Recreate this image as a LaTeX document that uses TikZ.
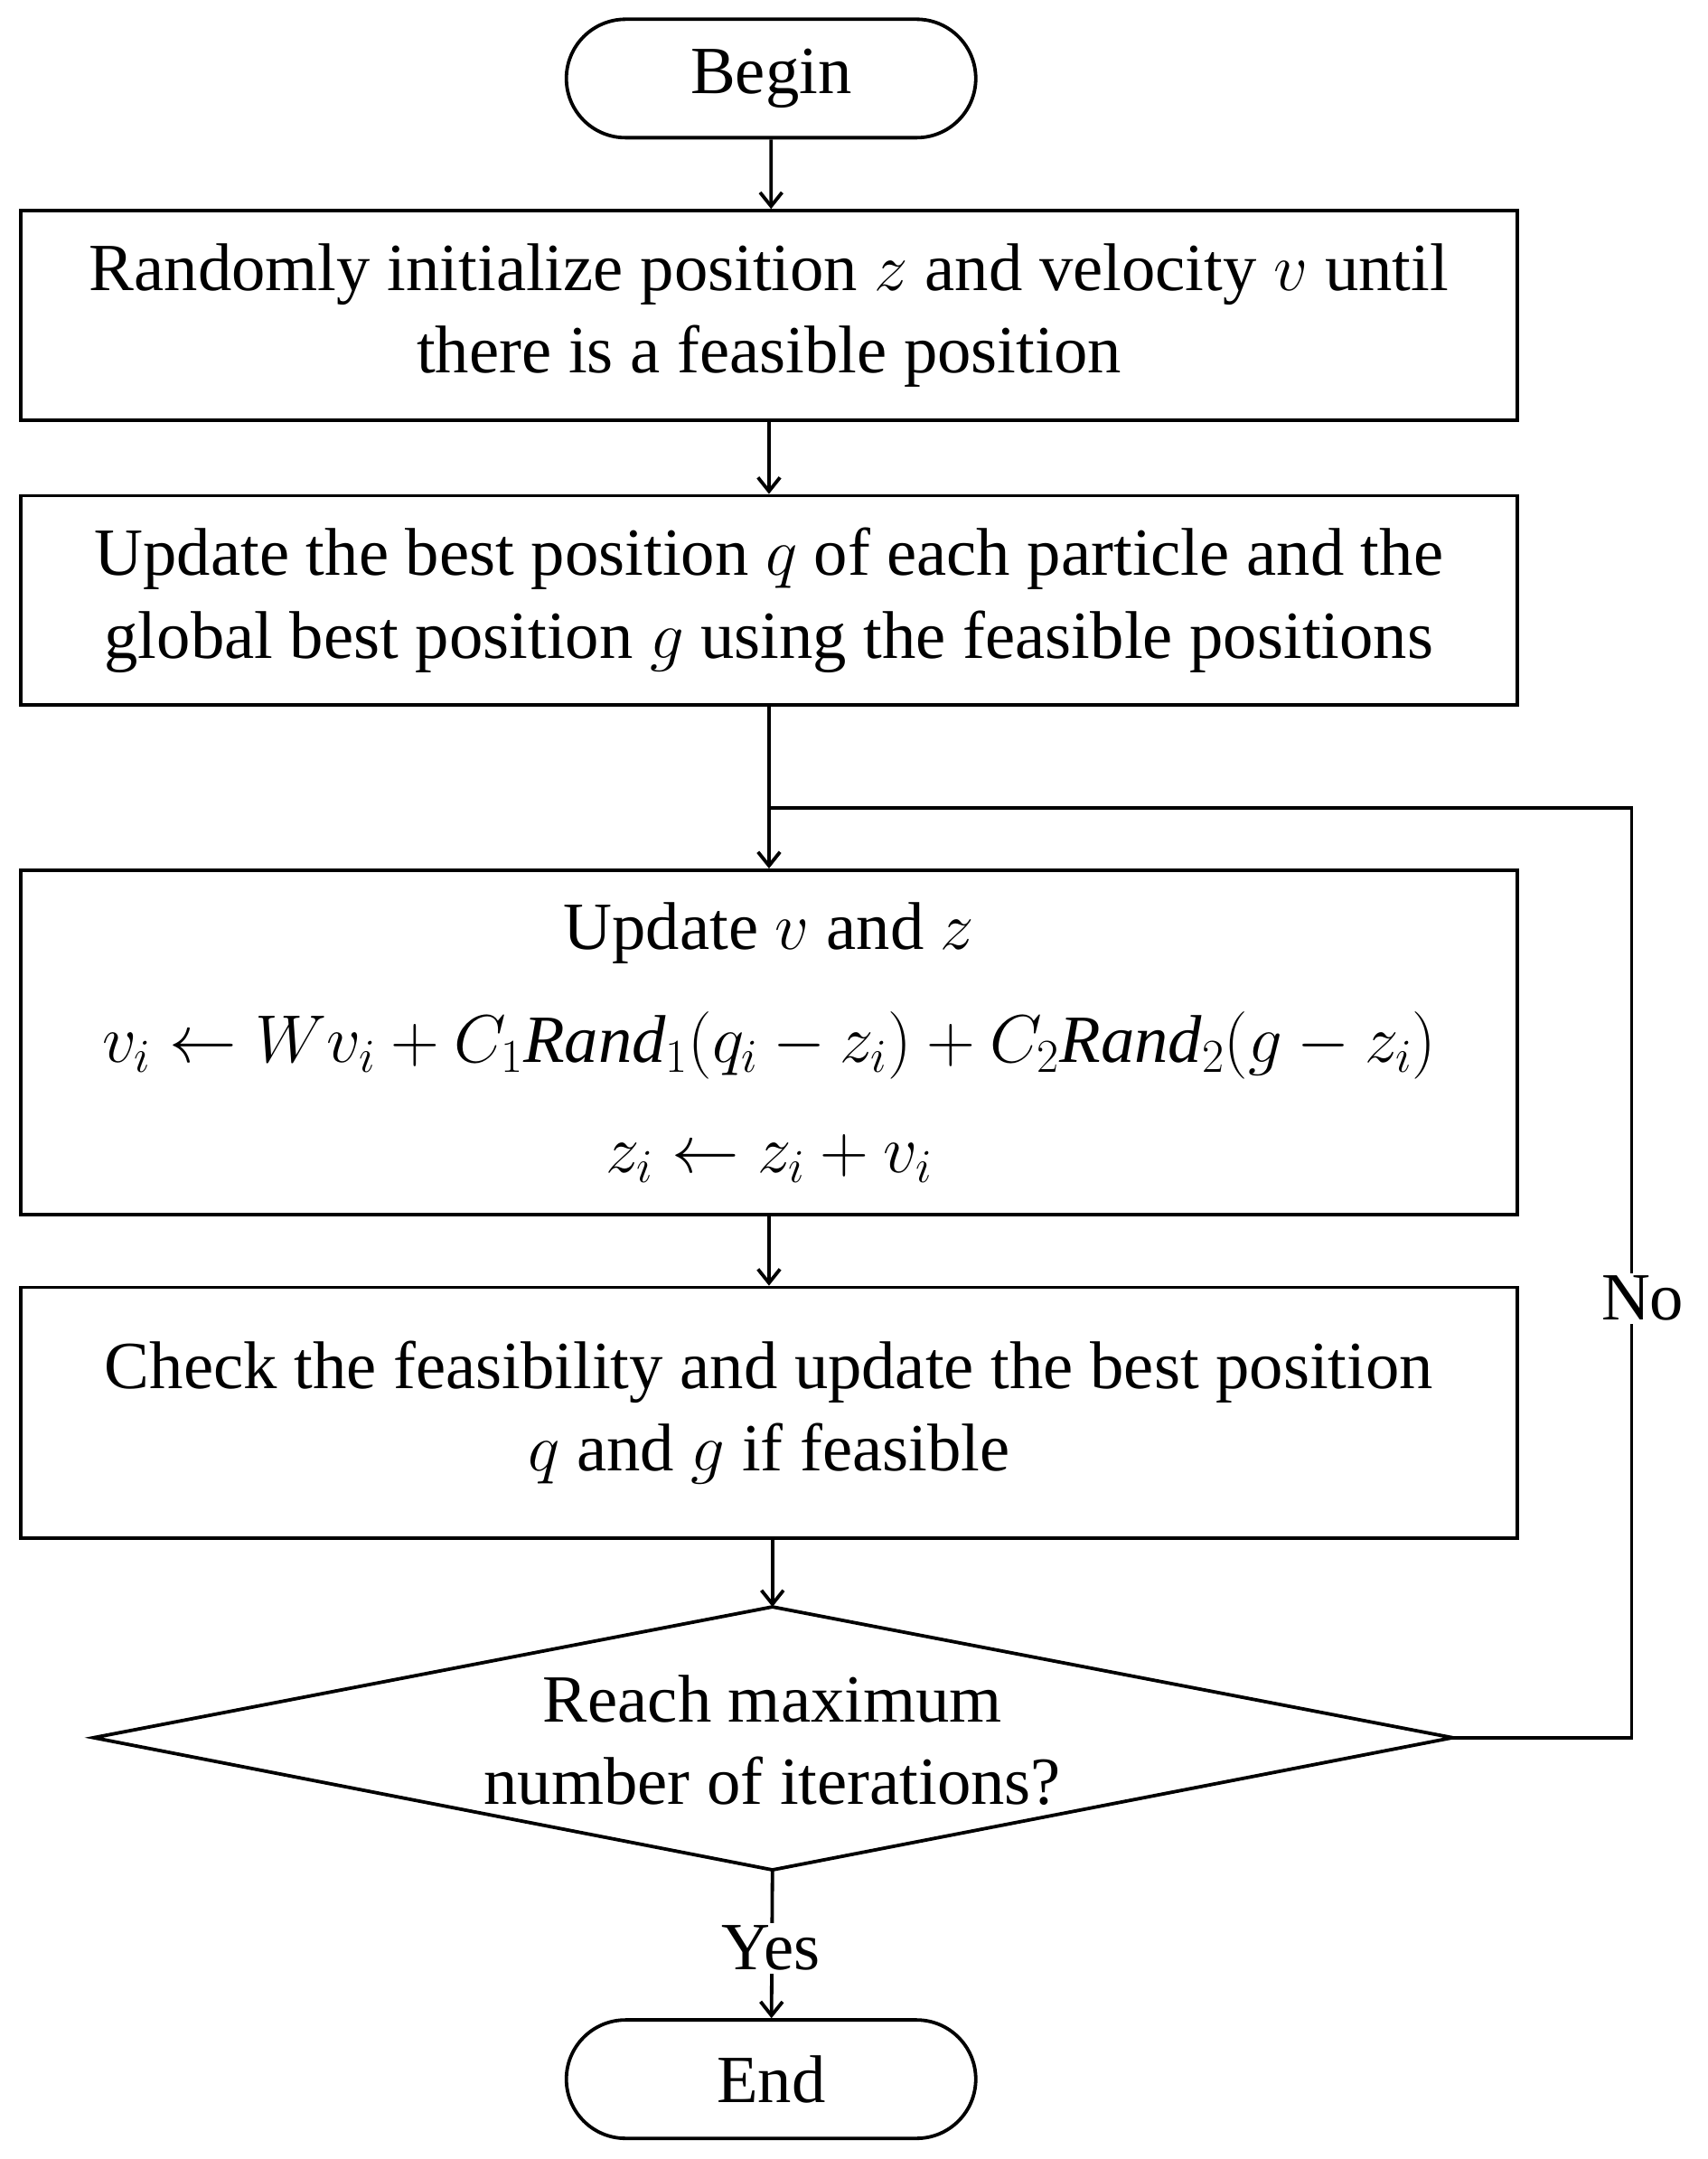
\documentclass[tikz,border=0pt]{standalone}
\usepackage{fix-cm}
\usepackage{fontspec}
\setmainfont{Liberation Serif}
\usetikzlibrary{arrows.meta,shapes.misc}
\begin{document}
\begin{tikzpicture}[x=1pt,y=-1pt,
  every node/.style={font=\fontsize{49}{60}\selectfont},
  box/.style={draw,line width=2.5pt,minimum width=1087pt,align=center,inner sep=0pt},
  term/.style={draw,line width=2.5pt,rounded rectangle,minimum width=304pt,minimum height=86pt},
  arr/.style={line width=2.5pt,-{Straight Barb[length=10pt,width=16pt]}},
  ln/.style={line width=2.5pt}]
\useasboundingbox (0,0) rectangle (1240,1568);
\node[term] (b) at (560,57) {Begin};
\node[box,minimum height=152pt] (s1) at (558.5,229) {Randomly initialize position $z$ and velocity $v$ until\\there is a feasible position};
\node[box,minimum height=152pt] (s2) at (558.5,436) {Update the best position $q$ of each particle and the\\global best position $g$ using the feasible positions};
\node[box,minimum height=250pt] (s3) at (558.5,757) {Update $v$ and $z$\\[22pt]
 $v_i \leftarrow Wv_i + C_1\mathit{Rand}_1(q_i - z_i) + C_2\mathit{Rand}_2(g - z_i)$\\[20pt]
 $z_i \leftarrow z_i + v_i$};
\node[box,minimum height=182pt] (s4) at (558.5,1026) {Check the feasibility and update the best position\\$q$ and $g$ if feasible};
\coordinate (dt) at (561,1167); \coordinate (db) at (561,1358);
\coordinate (dl) at (68,1262); \coordinate (dr) at (1055,1262);
\draw[ln] (dt) -- (dr) -- (db) -- (dl) -- cycle;
\node[align=center] (d) at (561,1264) {Reach maximum\\number of iterations?};
\node[term] (e) at (560,1510) {End};
\coordinate (c1) at (1185,1262); \coordinate (c2) at (1185,587); \coordinate (c3) at (560,587);
\draw[arr] (b) -- (b|-s1.north);
\draw[arr] (s1) -- (s1.south|-s2.north);
\draw[arr] (s2) -- (s2.south|-s3.north);
\draw[arr] (s3) -- (s3.south|-s4.north);
\draw[arr] (s4.south-|dt) -- (dt);
\draw[arr] (db) -- (e);
\draw[ln] (dr) -- (c1) -- (c2) -- (c3);
\node[fill=white,inner sep=2pt] (no) at (1193,943) {No};
\node[fill=white,inner sep=2pt] (yes) at (560,1415) {Yes};
\end{tikzpicture}
\end{document}
